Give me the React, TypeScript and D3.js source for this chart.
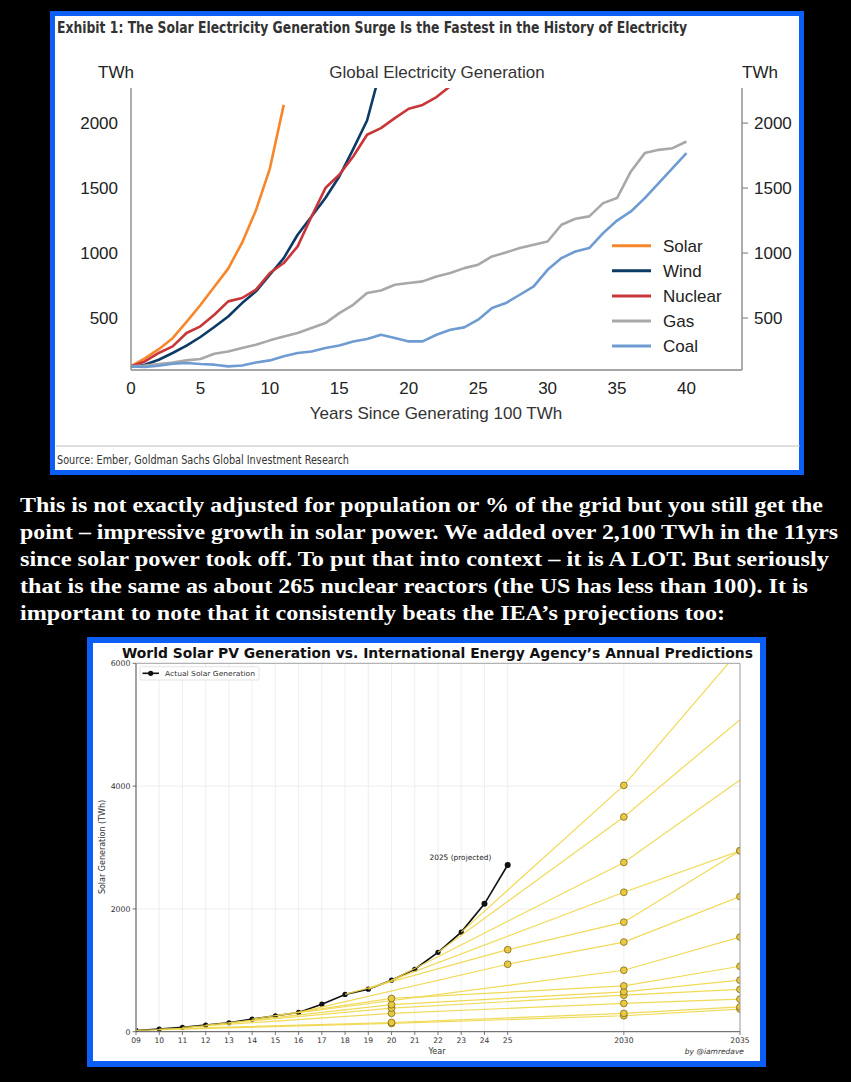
import * as React from 'react';
import * as d3 from 'd3';

// ---- Exhibit 1: TWh by years since a source first made 100 TWh ----
const solarTWh = [128, 190, 260, 345, 470, 600, 740, 880, 1080, 1330, 1650, 2140];
const windTWh = [128, 141, 179, 231, 287, 354, 431, 512, 615, 705, 833, 961, 1141, 1281, 1423, 1589, 1800, 2020, 2420];
const nuclearTWh = [128, 166, 231, 282, 385, 436, 525, 628, 654, 718, 846, 923, 1051, 1281, 1500, 1602, 1743, 1910, 1961, 2038, 2110, 2140, 2200, 2285];
const gasTWh = [128, 135, 145, 158, 174, 185, 225, 243, 269, 295, 328, 358, 385, 423, 461, 538, 602, 692, 712, 756, 769,
  782, 820, 846, 884, 910, 974, 1005, 1038, 1064, 1089, 1218, 1264, 1282, 1384, 1423, 1628, 1769, 1794, 1807, 1858];
const coalTWh = [128, 123, 133, 148, 154, 146, 141, 128, 135, 158, 174, 205, 231, 243, 269, 289, 320, 338, 371, 346, 320,
  320, 371, 410, 428, 487, 577, 615, 679, 743, 871, 961, 1012, 1038, 1153, 1250, 1320, 1423, 1538, 1653, 1769];

const seriesNames = ['Solar', 'Wind', 'Nuclear', 'Gas', 'Coal'];
const seriesData = [solarTWh, windTWh, nuclearTWh, gasTWh, coalTWh];
const seriesColors = ['#f7862b', '#0c3a66', '#c8363a', '#a8a8a8', '#6f9bd3'];
const yTicks1 = [500, 1000, 1500, 2000];
const xTicks1 = [0, 5, 10, 15, 20, 25, 30, 35, 40];

// ---- World solar PV vs IEA predictions ----
const actualYears = [2009, 2010, 2011, 2012, 2013, 2014, 2015, 2016, 2017, 2018, 2019, 2020, 2021, 2022, 2023, 2024, 2025];
const actualTWh = [20, 43, 71, 108, 146, 206, 260, 314, 449, 607, 693, 839, 1017, 1293, 1622, 2082, 2715];

const ieaYears = [
  [2009, 2020, 2030, 2035],
  [2010, 2020, 2030, 2035],
  [2011, 2020, 2030, 2035],
  [2012, 2020, 2030, 2035],
  [2013, 2020, 2030, 2035],
  [2014, 2020, 2030, 2035],
  [2015, 2030, 2035],
  [2016, 2025, 2030, 2035],
  [2018, 2025, 2030, 2035],
  [2019, 2030, 2035],
  [2020, 2030, 2035],
  [2022, 2030, 2035],
  [2023, 2030, 2035],
];
const ieaTWh = [
  [20, 135, 260, 368],
  [43, 150, 298, 405],
  [71, 300, 461, 530],
  [108, 385, 595, 688],
  [146, 440, 650, 839],
  [206, 542, 746, 1066],
  [260, 1001, 1541],
  [314, 1098, 1460, 2201],
  [607, 1336, 1784, 2947],
  [693, 2271, 2947],
  [839, 2757, 4098],
  [1293, 3498, 5083],
  [1622, 4012, 6220],
];
// the last three lines show no marker at their 2035 end
const ieaEndMarker = [true, true, true, true, true, true, true, true, true, true, false, false, false];
const xTicks2 = [...actualYears, 2030, 2035];
const yTicks2 = [0, 2000, 4000, 6000];

const noteLines = [
  'This is not exactly adjusted for population or % of the grid but you still get the',
  'point \u2013 impressive growth in solar power. We added over 2,100 TWh in the 11yrs',
  'since solar power took off. To put that into context \u2013 it is A LOT. But seriously',
  'that is the same as about 265 nuclear reactors (the US has less than 100). It is',
  'important to note that it consistently beats the IEA\u2019s projections too:',
];
const noteWidths = [803, 818, 809, 788, 705];

const BLUE = '#0b5ef6';
const sans = '"Liberation Sans", Arial, sans-serif';
const narrow = '"Liberation Sans Narrow", "DejaVu Sans Condensed", "Liberation Sans", sans-serif';
const mpl = '"DejaVu Sans", sans-serif';

export default function App() {
  const x1 = d3.scaleLinear().domain([0, 44]).range([131, 742]);
  const y1 = d3.scaleLinear().domain([100, 2270]).range([370, 88]);
  const line1 = d3.line<number>().x((_, i) => x1(i)).y((d) => y1(d));

  const x2 = d3.scaleLinear().domain([2009, 2035]).range([136, 740]);
  const y2 = d3.scaleLinear().domain([0, 6000]).range([1031.7, 663.3]);
  const line2 = d3.line<[number, number]>().x((d) => x2(d[0])).y((d) => y2(d[1]));

  return (
    <svg width={851} height={1082} style={{ position: 'absolute', left: 0, top: 0, display: 'block' }}>
      <defs>
        <clipPath id="clip1"><rect x={131} y={88} width={611} height={282} /></clipPath>
        <clipPath id="clip2"><rect x={136} y={663.3} width={604} height={368.4} /></clipPath>
      </defs>
      <rect x={0} y={0} width={851} height={1082} fill="#000" />

      {/* ---------- Exhibit 1 ---------- */}
      <rect x={52.5} y={13.5} width={749} height={459} fill="#fff" stroke={BLUE} strokeWidth={5} />
      <text x={57} y={33} fontFamily={narrow} fontWeight="bold" fontSize={15} fill="#333"
        textLength={630} lengthAdjust="spacingAndGlyphs">
        Exhibit 1: The Solar Electricity Generation Surge Is the Fastest in the History of Electricity
      </text>
      <text x={116} y={78} fontFamily={sans} fontSize={17} fill="#222" textAnchor="middle">TWh</text>
      <text x={760} y={78} fontFamily={sans} fontSize={17} fill="#222" textAnchor="middle">TWh</text>
      <text x={437} y={78} fontFamily={sans} fontSize={17} fill="#333" textAnchor="middle">Global Electricity Generation</text>

      <g clipPath="url(#clip1)">
        {seriesData.map((vals, i) => (
          <path key={seriesNames[i]} d={line1(vals) || ''} fill="none" stroke={seriesColors[i]} strokeWidth={2.6} strokeLinejoin="round" />
        ))}
      </g>
      <line x1={131} x2={131} y1={88} y2={370} stroke="#8a8a8a" strokeWidth={1.4} />
      <line x1={742} x2={742} y1={88} y2={370} stroke="#8a8a8a" strokeWidth={1.4} />
      <line x1={131} x2={742} y1={370} y2={370} stroke="#8a8a8a" strokeWidth={1.4} />
      {yTicks1.map((t) => (
        <g key={t}>
          <text x={118} y={y1(t) + 6} fontFamily={sans} fontSize={17} fill="#222" textAnchor="end">{t}</text>
          <line x1={742} x2={748} y1={y1(t)} y2={y1(t)} stroke="#8a8a8a" strokeWidth={1.2} />
          <text x={754} y={y1(t) + 6} fontFamily={sans} fontSize={17} fill="#222">{t}</text>
        </g>
      ))}
      {xTicks1.map((t) => (
        <text key={t} x={x1(t)} y={394} fontFamily={sans} fontSize={17} fill="#222" textAnchor="middle">{t}</text>
      ))}
      <text x={436} y={419} fontFamily={sans} fontSize={17} fill="#333" textAnchor="middle">Years Since Generating 100 TWh</text>
      {seriesNames.map((n, i) => (
        <g key={n}>
          <line x1={612} x2={651} y1={245.7 + i * 25.1} y2={245.7 + i * 25.1} stroke={seriesColors[i]} strokeWidth={3} />
          <text x={663} y={245.7 + i * 25.1 + 6} fontFamily={sans} fontSize={17} fill="#222">{n}</text>
        </g>
      ))}
      <line x1={56} x2={800} y1={446} y2={446} stroke="#bdbdbd" strokeWidth={1.2} />
      <text x={57} y={464} fontFamily={narrow} fontSize={11.5} fill="#333" textLength={292} lengthAdjust="spacingAndGlyphs">
        Source: Ember, Goldman Sachs Global Investment Research
      </text>

      {/* ---------- paragraph ---------- */}
      {noteLines.map((l, i) => (
        <text key={i} x={20} y={511.7 + i * 27.1} fontFamily='"Liberation Serif", "DejaVu Serif", serif' fontWeight="bold"
          fontSize={22} fill="#fff" textLength={noteWidths[i]} lengthAdjust="spacingAndGlyphs">{l}</text>
      ))}

      {/* ---------- World Solar PV chart ---------- */}
      <rect x={90} y={640} width={673} height={424} fill="#fff" stroke={BLUE} strokeWidth={6} />
      <text x={122} y={658} fontFamily={mpl} fontWeight="bold" fontSize={13.5} fill="#111"
        textLength={631} lengthAdjust="spacingAndGlyphs">
        World Solar PV Generation vs. International Energy Agency{'\u2019'}s Annual Predictions
      </text>
      {xTicks2.map((t) => (
        <line key={t} x1={x2(t)} x2={x2(t)} y1={663.3} y2={1031.7} stroke="#ebebeb" strokeWidth={0.8} />
      ))}
      {yTicks2.slice(1, 3).map((t) => (
        <line key={t} x1={136} x2={740} y1={y2(t)} y2={y2(t)} stroke="#ebebeb" strokeWidth={0.8} />
      ))}
      <g clipPath="url(#clip2)">
        <path d={line2(actualYears.map((y, i) => [y, actualTWh[i]] as [number, number])) || ''} fill="none" stroke="#111" strokeWidth={1.6} />
        {actualYears.map((y, i) => (
          <circle key={y} cx={x2(y)} cy={y2(actualTWh[i])} r={y >= 2024 ? 3 : 2.6} fill="#111" />
        ))}
        {ieaYears.map((yrs, k) => (
          <path key={k} d={line2(yrs.map((y, i) => [y, ieaTWh[k][i]] as [number, number])) || ''} fill="none"
            stroke="#f0d646" strokeOpacity={0.9} strokeWidth={1.2} />
        ))}
        {ieaYears.map((yrs, k) => yrs.slice(1).map((y, i) => (
          (y === 2035 && !ieaEndMarker[k]) ? null :
            <circle key={`${k}-${y}`} cx={x2(y)} cy={y2(ieaTWh[k][i + 1])} r={3.4} fill="#e9c940" stroke="#6d5c12" strokeWidth={0.7} />
        )))}
      </g>
      <line x1={136} x2={740} y1={663.3} y2={663.3} stroke="#a0a0a0" strokeWidth={1} />
      <line x1={740} x2={740} y1={663.3} y2={1031.7} stroke="#a0a0a0" strokeWidth={1} />
      <line x1={136} x2={136} y1={663.3} y2={1031.7} stroke="#9a9a9a" strokeWidth={1.8} />
      <line x1={136} x2={740} y1={1031.7} y2={1031.7} stroke="#555" strokeWidth={1} />
      {yTicks2.map((t) => (
        <g key={t}>
          <line x1={132.5} x2={136} y1={y2(t)} y2={y2(t)} stroke="#555" strokeWidth={0.8} />
          <text x={130.5} y={y2(t) + 2.8} fontFamily={mpl} fontSize={7.8} fill="#333" textAnchor="end">{t}</text>
        </g>
      ))}
      {xTicks2.map((t) => (
        <g key={t}>
          <line x1={x2(t)} x2={x2(t)} y1={1031.7} y2={1035} stroke="#555" strokeWidth={0.8} />
          <text x={x2(t)} y={1043} fontFamily={mpl} fontSize={7.6} fill="#333" textAnchor="middle">
            {t < 2030 ? String(t).slice(2) : String(t)}
          </text>
        </g>
      ))}
      <text x={437} y={1053.5} fontFamily={mpl} fontSize={8} fill="#333" textAnchor="middle">Year</text>
      <text transform="translate(105,847) rotate(-90)" fontFamily={mpl} fontSize={8} fill="#333" textAnchor="middle">
        Solar Generation (TWh)
      </text>
      <text x={744} y={1054} fontFamily={mpl} fontSize={7.5} fontStyle="italic" fill="#333" textAnchor="end">by @iamredave</text>
      <text x={429.5} y={859.5} fontFamily={mpl} fontSize={7.4} fill="#222">2025 (projected)</text>

      <rect x={140} y={666.7} width={119} height={13.3} fill="#fff" stroke="#dcdcdc" strokeWidth={0.8} rx={1.5} />
      <line x1={142.5} x2={159} y1={673.3} y2={673.3} stroke="#111" strokeWidth={1.6} />
      <circle cx={150.7} cy={673.3} r={2.6} fill="#111" />
      <text x={165} y={675.8} fontFamily={mpl} fontSize={7} fill="#333" textLength={90} lengthAdjust="spacingAndGlyphs">Actual Solar Generation</text>
    </svg>
  );
}
